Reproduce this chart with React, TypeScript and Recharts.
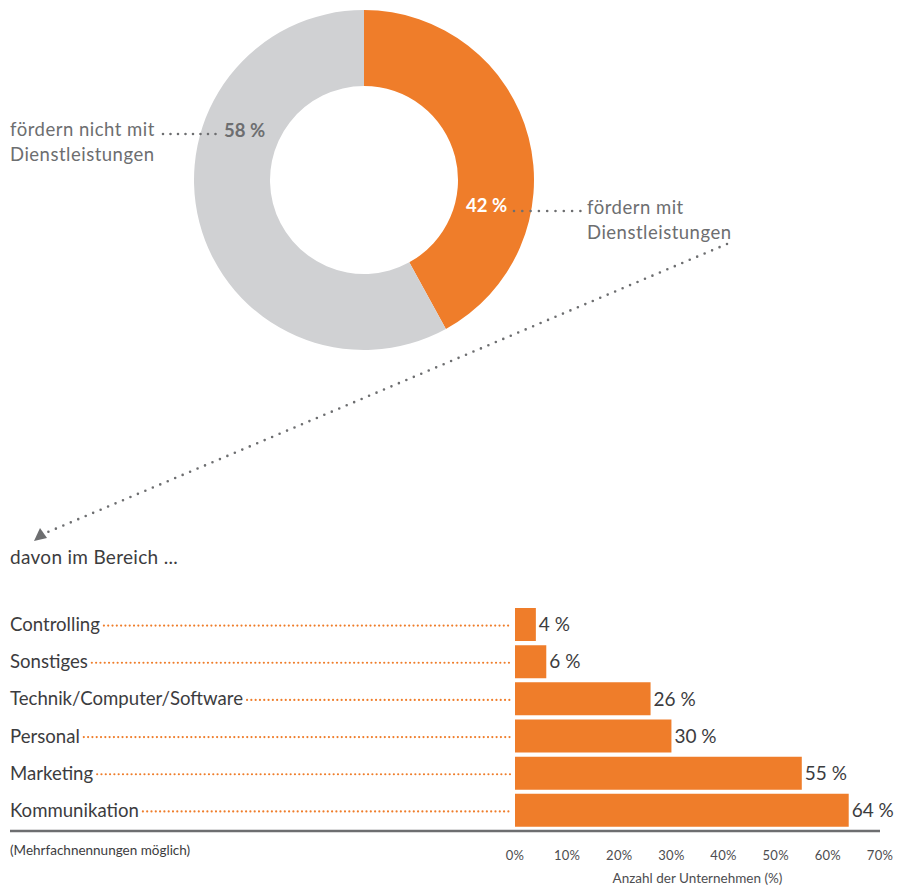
import React, { useLayoutEffect, useRef, useState } from 'react';
import { PieChart, Pie, Cell, BarChart, Bar, XAxis, YAxis, LabelList } from 'recharts';

const ORANGE = '#ef7d2a';
const LIGHT = '#d0d1d3';
const GREY = '#6d6e70';
const DARK = '#3c3c3e';
const FONT = 'Lato, "Open Sans", sans-serif';

const pieNames = ['fördern mit Dienstleistungen', 'fördern nicht mit Dienstleistungen'];
const pieValues = [42, 58];
const pieColors = [ORANGE, LIGHT];

const categories = ['Controlling', 'Sonstiges', 'Technik/Computer/Software', 'Personal', 'Marketing', 'Kommunikation'];
const barValues = [4, 6, 26, 30, 55, 64];
const xTicks = [0, 10, 20, 30, 40, 50, 60, 70];
const xTickLabels = ['0%', '10%', '20%', '30%', '40%', '50%', '60%', '70%'];

const pieData = pieNames.map((name, i) => ({ name, value: pieValues[i] }));
const barData = categories.map((name, i) => ({ name, value: barValues[i] }));

function CategoryTick(props: any) {
  const { y, payload } = props;
  const ref = useRef<SVGTextElement>(null);
  const [w, setW] = useState(0);
  useLayoutEffect(() => {
    if (ref.current) setW(ref.current.getComputedTextLength());
  }, [payload.value]);
  return (
    <g>
      <text ref={ref} x={10} y={y} dy="0.35em" fontSize={18.6} fill={DARK} fontFamily={FONT} textAnchor="start">
        {payload.value}
      </text>
      {w > 0 && (
        <line
          x1={10 + w + 4}
          x2={512}
          y1={y + 1}
          y2={y + 1}
          stroke={ORANGE}
          strokeWidth={2.2}
          strokeDasharray="0 4.3"
          strokeLinecap="round"
        />
      )}
    </g>
  );
}

function XTick(props: any) {
  const { x, y, payload, index } = props;
  return (
    <text x={x} y={y + 18} dy="0.35em" fontSize={13} fill="#4d4d4f" fontFamily={FONT} textAnchor="middle" letterSpacing={0.3}>
      {xTickLabels[index] ?? `${payload.value}%`}
    </text>
  );
}

export default function App() {
  return (
    <div style={{ position: 'absolute', left: 0, top: 0, width: 907, height: 885, background: '#fff', fontFamily: FONT }}>
      <div style={{ position: 'absolute', left: 0, top: 0 }}>
        <PieChart width={907} height={360} margin={{ top: 0, right: 0, bottom: 0, left: 0 }}>
          <Pie
            data={pieData}
            dataKey="value"
            nameKey="name"
            cx={364}
            cy={180}
            innerRadius={94}
            outerRadius={170}
            startAngle={90}
            endAngle={-270}
            stroke="none"
            isAnimationActive={false}
          >
            {pieData.map((d, i) => (
              <Cell key={d.name} fill={pieColors[i]} />
            ))}
          </Pie>
        </PieChart>
      </div>
      <div style={{ position: 'absolute', left: 0, top: 560 }}>
        <BarChart width={907} height={325} data={barData} layout="vertical" margin={{ top: 46, right: 27, left: 0, bottom: 0 }}>
          <XAxis
            type="number"
            domain={[0, 70]}
            ticks={xTicks}
            axisLine={false}
            tickLine={false}
            height={56}
            tick={<XTick />}
            interval={0}
            label={{ value: 'Anzahl der Unternehmen (%)', position: 'insideBottom', offset: 2, fontSize: 13.5, fill: '#4d4d4f', fontFamily: FONT }}
          />
          <YAxis type="category" dataKey="name" width={515} axisLine={false} tickLine={false} tick={<CategoryTick />} interval={0} />
          <Bar dataKey="value" fill={ORANGE} barSize={33} isAnimationActive={false}>
            <LabelList
              dataKey="value"
              position="right"
              offset={3}
              formatter={(v: any) => `${v} %`}
              fill={DARK}
              fontSize={19}
              fontFamily={FONT}
            />
          </Bar>
        </BarChart>
      </div>
      <svg width={907} height={885} style={{ position: 'absolute', left: 0, top: 0, pointerEvents: 'none' }} fontFamily={FONT}>
        {/* left pie annotation */}
        <text x={10} y={136} fontSize={18.5} letterSpacing={0.5} fill={GREY}>fördern nicht mit</text>
        <text x={10} y={161} fontSize={18.5} letterSpacing={0.5} fill={GREY}>Dienstleistungen</text>
        <line x1={163} x2={220} y1={134} y2={134} stroke={GREY} strokeWidth={2.6} strokeDasharray="0 7.5" strokeLinecap="round" />
        <text x={224} y={137} fontSize={18.5} fontWeight={700} fill={GREY}>58 %</text>
        {/* right pie annotation */}
        <text x={466} y={212} fontSize={18.5} fontWeight={700} fill="#ffffff">42 %</text>
        <line x1={514} x2={581} y1={211} y2={211} stroke={GREY} strokeWidth={2.6} strokeDasharray="0 8.3" strokeLinecap="round" />
        <text x={587} y={214} fontSize={18.5} letterSpacing={0.5} fill={GREY}>fördern mit</text>
        <text x={587} y={239} fontSize={18.5} letterSpacing={0.5} fill={GREY}>Dienstleistungen</text>
        {/* long arrow */}
        <line x1={727} y1={244} x2={48} y2={532} stroke={GREY} strokeWidth={2.6} strokeDasharray="0 8.1" strokeLinecap="round" />
        <polygon points="34,541 40,528 47,538" fill={GREY} />
        <text x={10} y={564} fontSize={19} letterSpacing={0.3} fill={DARK}>davon im Bereich ...</text>
        {/* axis baseline */}
        <line x1={10} x2={880} y1={831} y2={831} stroke={GREY} strokeWidth={2.5} />
        <text x={10} y={855} fontSize={13.5} fill={DARK}>(Mehrfachnennungen möglich)</text>
      </svg>
    </div>
  );
}
